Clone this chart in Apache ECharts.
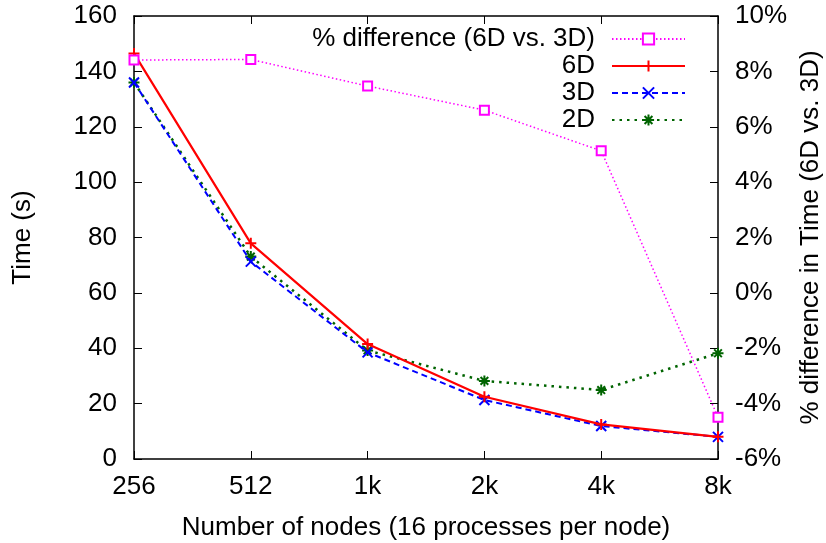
<!DOCTYPE html>
<html>
<head>
<meta charset="utf-8">
<script src="https://cdn.jsdelivr.net/npm/echarts@6/dist/echarts.min.js"></script>
<style>
  html, body { margin: 0; padding: 0; background: #fff; }
  #canvas { width: 826px; height: 543px; }
</style>
</head>
<body>
<div id="canvas"></div>
<script>
// nodes on the x axis
var nodes = ['256', '512', '1k', '2k', '4k', '8k'];
// time in seconds
var time6D = [146.5, 77.9, 41.5, 22.5, 12.5, 8.0];
var time3D = [136.0, 71.3, 38.5, 21.3, 11.9, 8.0];
var time2D = [136.0, 73.1, 39.2, 28.2, 24.9, 38.2];
// % difference 6D vs 3D (right axis)
var pctDiff = [8.41, 8.43, 7.47, 6.6, 5.13, -4.49];

var fontFam = '"Liberation Sans", Arial, sans-serif';
var fs = 26;
var plusPath = 'path://M0,5L10,5M5,0L5,10';
var crossPath = 'path://M0,0L10,10M10,0L0,10';
var starPath = 'path://M0,5L10,5M5,0L5,10M1.5,1.5L8.5,8.5M8.5,1.5L1.5,8.5';

let drawChart = function () {
    var dom = document.getElementById('canvas');
    var myChart = echarts.init(dom, null, { renderer: 'canvas' });
    var option = {
        animation: false,
        backgroundColor: '#fff',
        textStyle: { fontFamily: fontFam, color: '#000' },
        grid: { left: 134, right: 108, top: 16, bottom: 84, outerBoundsMode: 'none', containLabel: false },
        legend: {
            data: ['% difference (6D vs. 3D)', '6D', '3D', '2D'],
            orient: 'vertical',
            align: 'right',
            right: 140,
            top: 26,
            padding: 0,
            itemWidth: 73,
            itemHeight: 14,
            itemGap: 1,
            textStyle: { fontSize: fs, fontFamily: fontFam, color: '#000', lineHeight: 23, padding: [0, 12, 0, 0] }
        },
        xAxis: [
            {
                type: 'category',
                data: nodes,
                boundaryGap: false,
                name: 'Number of nodes (16 processes per node)',
                nameLocation: 'middle',
                nameGap: 56,
                nameTextStyle: { fontSize: fs, fontFamily: fontFam, color: '#000' },
                axisLine: { onZero: false, lineStyle: { color: '#000', width: 1.5 } },
                axisTick: { inside: true, length: 8, lineStyle: { color: '#000' } },
                axisLabel: { fontSize: fs, color: '#000', margin: 15, fontFamily: fontFam },
                splitLine: { show: false }
            },
            {
                type: 'category',
                data: nodes,
                boundaryGap: false,
                position: 'top',
                axisLine: { onZero: false, lineStyle: { color: '#000', width: 1.5 } },
                axisTick: { inside: true, length: 8, lineStyle: { color: '#000' } },
                axisLabel: { show: false },
                splitLine: { show: false }
            }
        ],
        yAxis: [
            {
                type: 'value',
                min: 0, max: 160, interval: 20,
                name: 'Time (s)',
                nameLocation: 'middle',
                nameRotate: 90,
                nameGap: 98,
                nameTextStyle: { fontSize: fs, fontFamily: fontFam, color: '#000' },
                axisLine: { show: true, onZero: false, lineStyle: { color: '#000', width: 1.5 } },
                axisTick: { show: true, inside: true, length: 8, lineStyle: { color: '#000' } },
                axisLabel: { fontSize: fs, color: '#000', margin: 17, fontFamily: fontFam },
                splitLine: { show: false }
            },
            {
                type: 'value',
                position: 'right',
                min: -6, max: 10, interval: 2,
                name: '% difference in Time (6D vs. 3D)',
                nameLocation: 'middle',
                nameRotate: 90,
                nameGap: 79,
                nameTextStyle: { fontSize: fs, fontFamily: fontFam, color: '#000' },
                axisLine: { show: true, onZero: false, lineStyle: { color: '#000', width: 1.5 } },
                axisTick: { show: true, inside: true, length: 8, lineStyle: { color: '#000' } },
                axisLabel: { fontSize: fs, color: '#000', margin: 17, fontFamily: fontFam, formatter: '{value}%' },
                splitLine: { show: false }
            }
        ],
        series: [
            {
                name: '% difference (6D vs. 3D)',
                type: 'line',
                yAxisIndex: 1,
                data: pctDiff,
                symbol: 'rect',
                symbolSize: 9,
                color: '#ff00ff',
                itemStyle: { color: '#fff', borderColor: '#ff00ff', borderWidth: 2 },
                lineStyle: { color: '#ff00ff', width: 1.5, type: [1.5, 2.5] },
                z: 5
            },
            {
                name: '6D',
                type: 'line',
                data: time6D,
                symbol: plusPath,
                symbolSize: 11,
                color: '#ff0000',
                itemStyle: { color: '#ff0000', borderColor: '#ff0000', borderWidth: 2 },
                lineStyle: { color: '#ff0000', width: 2.2 },
                z: 4
            },
            {
                name: '3D',
                type: 'line',
                data: time3D,
                symbol: crossPath,
                symbolSize: 10,
                color: '#0000ff',
                itemStyle: { color: '#0000ff', borderColor: '#0000ff', borderWidth: 2 },
                lineStyle: { color: '#0000ff', width: 2, type: [6, 4] },
                z: 3
            },
            {
                name: '2D',
                type: 'line',
                data: time2D,
                symbol: starPath,
                symbolSize: 11,
                color: '#006400',
                itemStyle: { color: '#006400', borderColor: '#006400', borderWidth: 2 },
                lineStyle: { color: '#006400', width: 2.5, type: [2.5, 5] },
                z: 2
            }
        ]
    };
    myChart.setOption(option, true);
};
drawChart();
</script>
</body>
</html>
